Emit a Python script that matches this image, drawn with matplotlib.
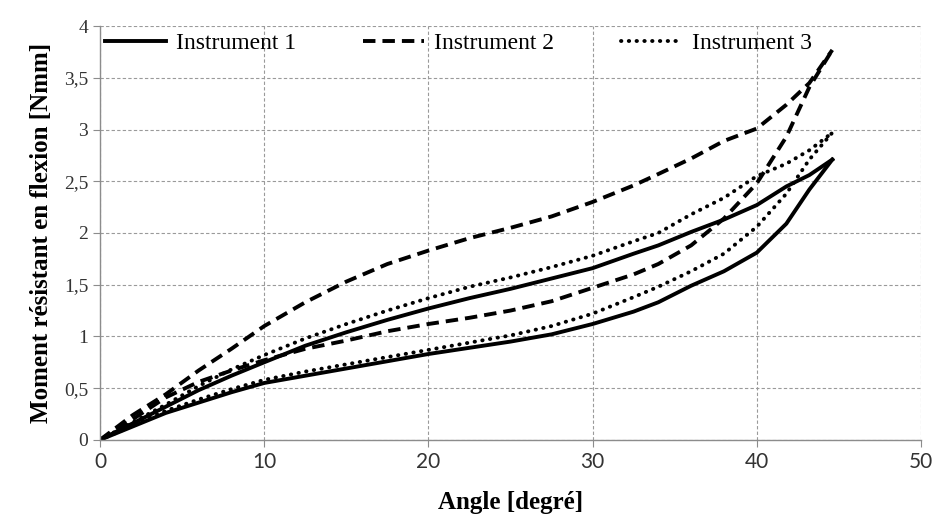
import numpy as np
import matplotlib.pyplot as plt
from matplotlib.ticker import FuncFormatter

# angle points (degrees), shared by all curves
angle = [0, 2, 4, 6, 8, 10, 12.5, 15, 17.5, 20, 22.5, 25, 27.5, 30,
         32.5, 34, 36, 38, 40, 41.8, 43.2, 44.6]

# loading (upper) and unloading (lower) branches, in Nmm
instr1_up = [0, 0.16, 0.32, 0.48, 0.62, 0.75, 0.91, 1.04, 1.16, 1.27, 1.37,
             1.46, 1.56, 1.66, 1.80, 1.88, 2.01, 2.13, 2.27, 2.45, 2.56, 2.71]
instr1_down = [0, 0.13, 0.26, 0.36, 0.46, 0.55, 0.62, 0.69, 0.76, 0.83, 0.89,
               0.95, 1.02, 1.12, 1.24, 1.33, 1.49, 1.63, 1.81, 2.09, 2.42, 2.71]
instr2_up = [0, 0.24, 0.44, 0.67, 0.88, 1.10, 1.33, 1.53, 1.70, 1.83, 1.95,
             2.05, 2.16, 2.30, 2.46, 2.57, 2.72, 2.89, 3.01, 3.24, 3.45, 3.77]
instr2_down = [0, 0.20, 0.41, 0.56, 0.67, 0.77, 0.88, 0.96, 1.05, 1.12, 1.18,
               1.25, 1.34, 1.47, 1.60, 1.70, 1.88, 2.14, 2.48, 2.93, 3.41, 3.77]
instr3_up = [0, 0.17, 0.34, 0.52, 0.68, 0.82, 0.98, 1.12, 1.25, 1.37, 1.48,
             1.57, 1.67, 1.78, 1.92, 2.00, 2.18, 2.34, 2.55, 2.67, 2.80, 2.97]
instr3_down = [0, 0.14, 0.28, 0.39, 0.49, 0.58, 0.66, 0.73, 0.80, 0.87, 0.94,
               1.01, 1.10, 1.22, 1.38, 1.48, 1.63, 1.80, 2.06, 2.38, 2.71, 2.97]

labels = ['Instrument 1', 'Instrument 2', 'Instrument 3']

plt.rcParams['font.family'] = ['Liberation Serif', 'DejaVu Serif']

fig = plt.figure(figsize=(9.35, 5.23), dpi=100)
ax = fig.add_axes([0.107, 0.159, 0.878, 0.791])

lw = 2.8
styles = [dict(linestyle='-', solid_joinstyle='round'),
          dict(linestyle=(0, (3.2, 1.8)), dash_joinstyle='round'),
          dict(linestyle=(0, (0.1, 1.9)), dash_capstyle='round')]
series = [(instr1_up, instr1_down), (instr2_up, instr2_down),
          (instr3_up, instr3_down)]

for (up, down), st, lab in zip(series, styles, labels):
    ax.plot(angle, up, color='black', lw=lw, label=lab, **st)
    ax.plot(angle, down, color='black', lw=lw, **st)

ax.set_xlim(0, 50)
ax.set_ylim(0, 4)
ax.set_xticks(np.arange(0, 51, 10))
ax.set_yticks(np.arange(0, 4.01, 0.5))
ax.yaxis.set_major_formatter(FuncFormatter(lambda v, p: f'{v:g}'.replace('.', ',')))

ax.grid(True, color='#9a9a9a', linestyle=(0, (3, 2)), linewidth=0.8)
ax.set_axisbelow(True)
for s in ['top', 'right']:
    ax.spines[s].set_visible(False)
for s in ['left', 'bottom']:
    ax.spines[s].set_color('#8c8c8c')
    ax.spines[s].set_linewidth(1.0)
ax.tick_params(axis='both', direction='out', length=5, color='#8c8c8c',
               colors='#333333', labelsize=14)
for t in ax.get_xticklabels():
    t.set_fontfamily(['Lato', 'DejaVu Sans'])
    t.set_fontsize(15)

ax.set_xlabel('Angle [degré]', fontsize=18, fontweight='bold', labelpad=14)
ax.set_ylabel('Moment résistant en flexion [Nmm]', fontsize=18,
              fontweight='bold', labelpad=8)

ax.legend(loc='upper left', bbox_to_anchor=(0.0, 0.995), ncol=3,
          frameon=False, fontsize=17, handlelength=2.6, handletextpad=0.4,
          columnspacing=2.85, borderaxespad=0, borderpad=0.2)

fig.savefig('out.png', dpi=100)
